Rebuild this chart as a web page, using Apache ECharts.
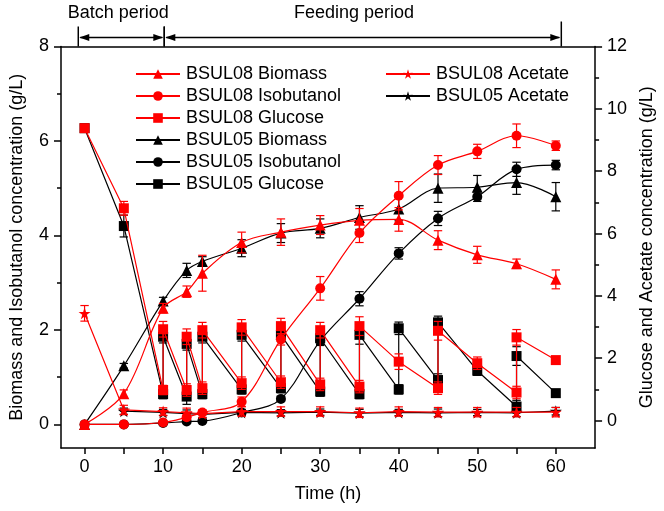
<!DOCTYPE html>
<html>
<head>
<meta charset="utf-8">
<script src="https://cdn.jsdelivr.net/npm/echarts@6/dist/echarts.min.js"></script>
<style>html,body{margin:0;padding:0;background:#fff}#c{width:664px;height:511px}</style>
</head>
<body>
<div id="c"></div>
<script>
// ---------- data ----------
const tBio = [0, 5, 10, 13, 15, 20, 25, 30, 35, 40, 45, 50, 55, 60];
const bio08 = [0, 0.65, 2.46, 2.81, 3.2, 3.85, 4.07, 4.22, 4.32, 4.34, 3.9, 3.59, 3.4, 3.07];
const bio08Err = [0.03, 0.08, 0.1, 0.12, 0.38, 0.22, 0.28, 0.2, 0.25, 0.25, 0.2, 0.18, 0.1, 0.2];
const bio05 = [0, 1.24, 2.61, 3.26, 3.45, 3.73, 4.05, 4.15, 4.38, 4.56, 5.0, 5.02, 5.12, 4.82];
const bio05Err = [0.03, 0.05, 0.08, 0.15, 0.1, 0.18, 0.2, 0.2, 0.25, 0.25, 0.3, 0.25, 0.25, 0.3];
const iso08 = [0, 0, 0.04, 0.15, 0.25, 0.48, 1.8, 2.88, 4.05, 4.84, 5.49, 5.78, 6.11, 5.9];
const iso08Err = [0, 0, 0.02, 0.05, 0.05, 0.1, 0.12, 0.25, 0.2, 0.3, 0.2, 0.15, 0.25, 0.1];
const iso05 = [0, 0, 0.03, 0.06, 0.07, 0.25, 0.54, 1.77, 2.66, 3.62, 4.36, 4.82, 5.4, 5.49];
const iso05Err = [0, 0, 0.02, 0.02, 0.02, 0.03, 0.05, 0.1, 0.15, 0.12, 0.15, 0.1, 0.15, 0.1];

const tGlc08 = [0, 5, 10, 10, 13, 13, 15, 15, 20, 20, 25, 25, 30, 30, 35, 35, 40, 45, 45, 50, 55, 55, 60];
const glc08 = [9.38, 6.81, 0.98, 2.93, 0.98, 2.69, 1.04, 2.9, 1.2, 2.99, 1.23, 3.03, 1.16, 2.9, 1.09, 3.03, 1.89, 1.04, 2.88, 1.84, 0.9, 2.67, 1.94];
const glc08Err = [0.1, 0.22, 0.15, 0.25, 0.2, 0.25, 0.2, 0.25, 0.2, 0.25, 0.2, 0.25, 0.2, 0.25, 0.2, 0.3, 0.25, 0.2, 0.3, 0.2, 0.2, 0.25, 0.1];
const tGlc05 = [0, 5, 10, 10, 13, 13, 15, 15, 20, 20, 25, 25, 30, 30, 35, 35, 40, 40, 45, 45, 50, 55, 55, 60];
const glc05 = [9.38, 6.24, 0.85, 2.69, 0.77, 2.46, 0.85, 2.69, 1.0, 2.75, 1.04, 2.75, 0.93, 2.64, 0.85, 2.75, 1.0, 2.96, 1.3, 3.15, 1.6, 0.45, 2.07, 0.88];
const glc05Err = [0.1, 0.35, 0.15, 0.2, 0.25, 0.2, 0.15, 0.2, 0.15, 0.2, 0.15, 0.2, 0.15, 0.2, 0.15, 0.3, 0.15, 0.2, 0.2, 0.2, 0.15, 0.2, 0.3, 0.1];

const tAce08 = [0, 5, 10, 13, 15, 20, 25, 30, 35, 40, 45, 50, 55, 60];
const ace08 = [3.44, 0.34, 0.29, 0.25, 0.22, 0.29, 0.29, 0.29, 0.25, 0.29, 0.27, 0.27, 0.27, 0.27];
const ace08Err = [0.25, 0.15, 0.12, 0.15, 0.12, 0.15, 0.15, 0.15, 0.15, 0.15, 0.15, 0.15, 0.15, 0.15];
const tAce05 = [5, 10, 13, 15, 20, 25, 30, 35, 40, 45, 50, 55, 60];
const ace05 = [0.3, 0.26, 0.22, 0.2, 0.26, 0.25, 0.27, 0.24, 0.26, 0.25, 0.26, 0.25, 0.3];
const ace05Err = [0.1, 0.1, 0.12, 0.1, 0.1, 0.1, 0.1, 0.12, 0.1, 0.12, 0.1, 0.12, 0.12];

const xTickValues = [0, 5, 10, 15, 20, 25, 30, 35, 40, 45, 50, 55, 60];
const xLabelValues = [0, 10, 20, 30, 40, 50, 60];
const yLeftLabels = [0, 2, 4, 6, 8];
const yLeftMinor = [1, 3, 5, 7];
const yRightLabels = [0, 2, 4, 6, 8, 10, 12];
const yRightMinor = [1, 3, 5, 7, 9, 11];

// [start time, end time, label centre time, label]
const periods = [[-0.8, 10.15, 4.3, 'Batch period'], [10.15, 60.7, 34.3, 'Feeding period']];

// ---------- styling helpers ----------
const RED = '#ff0000', BLACK = '#000000';
const FONT = 'Liberation Sans, Arial, sans-serif';
const STAR = 'path://M50,0L61.17,34.63L97.55,34.55L68.07,55.87L79.39,90.45L50,69L20.61,90.45L31.93,55.87L2.45,34.55L38.83,34.63Z';
const zip = (xs, ys) => xs.map((x, i) => [x, ys[i]]);
const zip3 = (xs, ys, es) => xs.map((x, i) => [x, ys[i], es[i]]);

function lineSeries(name, xs, ys, color, symbol, size, yAxisIndex, smooth, z) {
  return {
    name, type: 'line', data: zip(xs, ys), yAxisIndex, smooth: smooth ? 0.35 : false,
    symbol, symbolSize: size, showAllSymbol: true, z,
    lineStyle: { color, width: 1.2 }, itemStyle: { color, borderWidth: 0 },
    emphasis: { disabled: true }, animation: false
  };
}
function errSeries(xs, ys, es, color, yAxisIndex, z) {
  return {
    type: 'custom', yAxisIndex, z, silent: true, animation: false,
    data: zip3(xs, ys, es),
    renderItem(params, api) {
      const x = api.value(0), y = api.value(1), e = api.value(2);
      if (!e) return null;
      const a = api.coord([x, y + e]), b = api.coord([x, y - e]);
      const w = 4.2, st = { stroke: color, lineWidth: 1.2 };
      return { type: 'group', children: [
        { type: 'line', shape: { x1: a[0], y1: a[1], x2: b[0], y2: b[1] }, style: st },
        { type: 'line', shape: { x1: a[0] - w, y1: a[1], x2: a[0] + w, y2: a[1] }, style: st },
        { type: 'line', shape: { x1: b[0] - w, y1: b[1], x2: b[0] + w, y2: b[1] }, style: st }
      ]};
    }
  };
}
const periodSeries = {
  type: 'custom', yAxisIndex: 0, z: 20, silent: true, clip: false, animation: false,
  data: periods,
  renderItem(params, api) {
    const p0 = api.coord([api.value(0), 8]);
    const p1 = api.coord([api.value(1), 8]);
    const pt = api.coord([api.value(2), 8]);
    const top = p0[1];
    const ay = top - 9;
    const isLast = params.dataIndex === periods.length - 1;
    const st = { stroke: '#000', lineWidth: 1.5 };
    const ah = 10, aw = 3.5;
    const ch = [
      { type: 'line', shape: { x1: p0[0], y1: top - 20, x2: p0[0], y2: top }, style: st },
      { type: 'line', shape: { x1: p1[0], y1: top - (isLast ? 25 : 20), x2: p1[0], y2: top }, style: st },
      { type: 'line', shape: { x1: p0[0] + 2, y1: ay, x2: p1[0] - 2, y2: ay }, style: st },
      { type: 'polygon', shape: { points: [[p0[0] + 1, ay], [p0[0] + 1 + ah, ay - aw], [p0[0] + 1 + ah, ay + aw]] }, style: { fill: '#000' } },
      { type: 'polygon', shape: { points: [[p1[0] - 1, ay], [p1[0] - 1 - ah, ay - aw], [p1[0] - 1 - ah, ay + aw]] }, style: { fill: '#000' } },
      { type: 'text', x: pt[0], y: top - 33, style: { text: api.value(3), fill: '#000', font: '18px ' + FONT, align: 'center', verticalAlign: 'middle' } }
    ];
    return { type: 'group', children: ch };
  }
};

const axisText = { color: '#000', fontSize: 18, fontFamily: FONT };
const lineBlack = { show: true, onZero: false, lineStyle: { color: '#000', width: 1.5 } };

const option = {
  backgroundColor: '#fff',
  animation: false,
  grid: { left: 58, right: 58, top: 46.5, bottom: 63, containLabel: false },
  legend: [
    {
      data: ['BSUL08 Biomass', 'BSUL08 Isobutanol', 'BSUL08 Glucose', 'BSUL05 Biomass', 'BSUL05 Isobutanol', 'BSUL05 Glucose'],
      orient: 'vertical', left: 130, top: 60, itemWidth: 44, itemHeight: 12, itemGap: 4,
      textStyle: { color: '#000', fontSize: 18, fontFamily: FONT, padding: [0, 0, 0, 1] },
      selectedMode: false
    },
    {
      data: ['BSUL08 Acetate', 'BSUL05 Acetate'],
      orient: 'vertical', left: 380, top: 60, itemWidth: 44, itemHeight: 12, itemGap: 4,
      textStyle: { color: '#000', fontSize: 18, fontFamily: FONT, padding: [0, 0, 0, 1] },
      selectedMode: false
    }
  ],
  xAxis: [
    {
      type: 'value', min: -3, max: 65, position: 'bottom',
      name: 'Time (h)', nameLocation: 'middle', nameGap: 37, nameTextStyle: axisText,
      axisLine: lineBlack, splitLine: { show: false },
      axisTick: { show: true, inside: false, length: 6, customValues: xTickValues, lineStyle: { color: '#000', width: 1.5 } },
      axisLabel: { ...axisText, margin: 10, customValues: xLabelValues }
    },
    {
      type: 'value', min: -3, max: 65, position: 'top',
      axisLine: lineBlack, axisTick: { show: false }, axisLabel: { show: false }, splitLine: { show: false }
    }
  ],
  yAxis: [
    {
      type: 'value', min: -0.5, max: 8, position: 'left',
      name: 'Biomass and Isobutanol concentration (g/L)', nameLocation: 'middle', nameGap: 35, nameRotate: 90,
      nameTextStyle: axisText,
      axisLine: lineBlack, splitLine: { show: false },
      axisTick: { show: true, inside: false, length: 7, customValues: yLeftLabels, lineStyle: { color: '#000', width: 1.5 } },
      axisLabel: { ...axisText, margin: 12, customValues: yLeftLabels }
    },
    {
      type: 'value', min: -0.88, max: 12, position: 'right',
      name: 'Glucose and Acetate concentration (g/L)', nameLocation: 'middle', nameGap: 39, nameRotate: 90,
      nameTextStyle: axisText,
      axisLine: lineBlack, splitLine: { show: false },
      axisTick: { show: true, inside: false, length: 7, customValues: yRightLabels, lineStyle: { color: '#000', width: 1.5 } },
      axisLabel: { ...axisText, margin: 12, customValues: yRightLabels }
    },
    {
      type: 'value', min: -0.5, max: 8, position: 'left',
      axisLine: { show: false, onZero: false }, splitLine: { show: false }, axisLabel: { show: false },
      axisTick: { show: true, inside: false, length: 4, customValues: yLeftMinor, lineStyle: { color: '#000', width: 1.5 } }
    },
    {
      type: 'value', min: -0.88, max: 12, position: 'right',
      axisLine: { show: false, onZero: false }, splitLine: { show: false }, axisLabel: { show: false },
      axisTick: { show: true, inside: false, length: 4, customValues: yRightMinor, lineStyle: { color: '#000', width: 1.5 } }
    }
  ],
  series: [
    errSeries(tBio, bio05, bio05Err, BLACK, 0, 2),
    errSeries(tBio, iso05, iso05Err, BLACK, 0, 2),
    errSeries(tGlc05, glc05, glc05Err, BLACK, 1, 2),
    errSeries(tAce05, ace05, ace05Err, BLACK, 1, 2),
    lineSeries('BSUL05 Biomass', tBio, bio05, BLACK, 'triangle', 11, 0, true, 3),
    lineSeries('BSUL05 Isobutanol', tBio, iso05, BLACK, 'circle', 10, 0, true, 3),
    lineSeries('BSUL05 Glucose', tGlc05, glc05, BLACK, 'rect', 10, 1, false, 3),
    lineSeries('BSUL05 Acetate', tAce05, ace05, BLACK, STAR, 12, 1, false, 3),
    errSeries(tBio, bio08, bio08Err, RED, 0, 4),
    errSeries(tBio, iso08, iso08Err, RED, 0, 4),
    errSeries(tGlc08, glc08, glc08Err, RED, 1, 4),
    errSeries(tAce08, ace08, ace08Err, RED, 1, 4),
    lineSeries('BSUL08 Biomass', tBio, bio08, RED, 'triangle', 11, 0, true, 5),
    lineSeries('BSUL08 Isobutanol', tBio, iso08, RED, 'circle', 10, 0, true, 5),
    lineSeries('BSUL08 Glucose', tGlc08, glc08, RED, 'rect', 10, 1, false, 5),
    lineSeries('BSUL08 Acetate', tAce08, ace08, RED, STAR, 12, 1, false, 5),
    periodSeries
  ]
};

const chart = echarts.init(document.getElementById('c'), null, { renderer: 'canvas' });
chart.setOption(option);
</script>
</body>
</html>
